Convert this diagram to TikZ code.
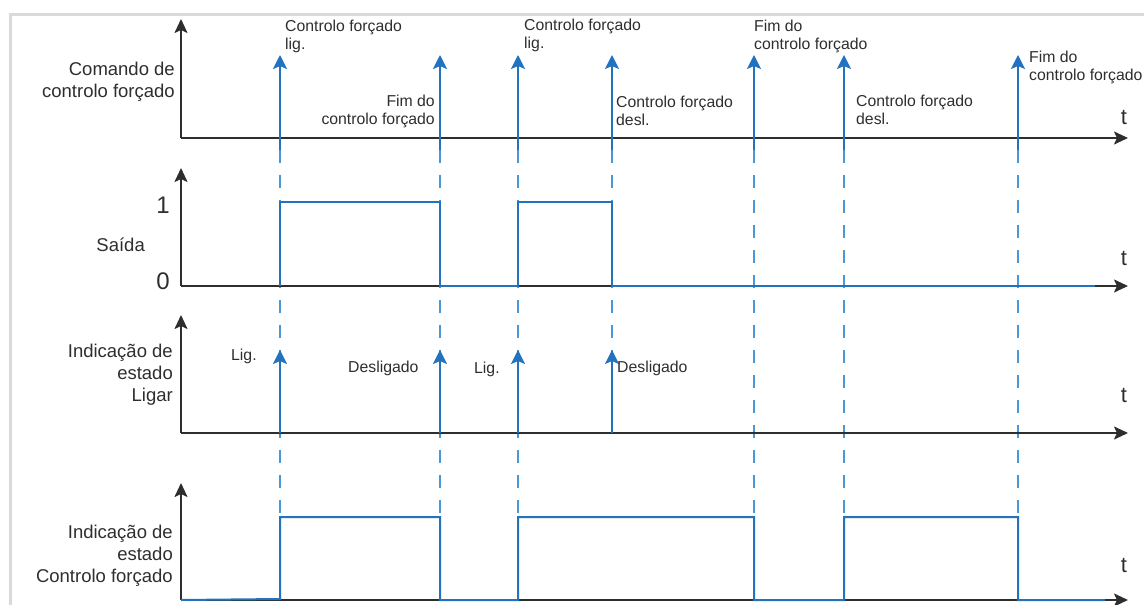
\documentclass[tikz,border=0pt]{standalone}
\usepackage{fontspec}
\setmainfont{Liberation Sans}
\usetikzlibrary{arrows.meta}
\definecolor{sigblue}{HTML}{2272BE}
\definecolor{dashblue}{HTML}{4A98D8}
\definecolor{axisgray}{HTML}{2E2E2E}
\definecolor{framegray}{HTML}{D9D9D9}
\tikzset{
  axisline/.style={draw=axisgray, line width=2pt, -{Stealth[length=14pt,width=13pt,inset=3pt]}},
  sigline/.style={draw=sigblue, line width=2pt},
  eventarrow/.style={draw=sigblue, line width=2pt, -{Stealth[length=14pt,width=14pt,inset=3pt]}},
  guide/.style={draw=dashblue, line width=1.8pt, dash pattern=on 13pt off 12pt},
  bigtxt/.style={inner sep=0pt, align=right, text=axisgray, font=\fontsize{18.5}{22}\selectfont},
  smalltxt/.style={inner sep=0pt, align=left, text=axisgray, font=\fontsize{15.8}{18.3}\selectfont},
  tlabel/.style={inner sep=0pt, text=axisgray, font=\fontsize{22}{24}\selectfont},
  numlabel/.style={inner sep=0pt, text=axisgray, font=\fontsize{24}{26}\selectfont}
}
\begin{document}
\begin{tikzpicture}[x=1pt,y=-1pt]
\useasboundingbox (0,0) rectangle (1144,605);
% frame
\draw[framegray, line width=3pt] (10,606) -- (10,14) -- (1145,14);

% guide lines (dashed)
\foreach \x in {280,440,518,754,844,1018} {
  \coordinate (gt\x) at (\x,150);
  \coordinate (gb\x) at (\x,517);
  \draw[guide] (gt\x) -- (gb\x);
}
\coordinate (gt612) at (612,150);
\coordinate (gb612) at (612,352);
\draw[guide] (gt612) -- (gb612);

% axes
\foreach \i/\base/\top in {1/138/19, 2/286/168, 3/433/315, 4/600/483} {
  \coordinate (o\i) at (181,\base);
  \coordinate (ytip\i) at (181,\top);
  \coordinate (xtip\i) at (1128,\base);
  \draw[axisline] (o\i) -- (ytip\i);
  \draw[axisline] (o\i) -- (xtip\i);
}

% output signal (panel 2)
\draw[sigline] (280,286) -- (280,202) -- (440,202) -- (440,286) -- (518,286)
  -- (518,202) -- (612,202) -- (612,286) -- (1095,286);
% forced control status (panel 4)
\draw[sigline] (181,600) -- (280,599) -- (280,517) -- (440,517) -- (440,600) -- (518,600)
  -- (518,517) -- (754,517) -- (754,600) -- (844,600) -- (844,517) -- (1018,517)
  -- (1018,600) -- (1105,600);

% command arrows (panel 1)
\foreach \x in {280,440,518,612,754,844,1018} {
  \coordinate (ca\x) at (\x,150);
  \coordinate (cb\x) at (\x,55);
  \draw[eventarrow] (ca\x) -- (cb\x);
}
% status arrows (panel 3)
\foreach \x in {280,440,518,612} {
  \coordinate (sa\x) at (\x,433);
  \coordinate (sb\x) at (\x,350);
  \draw[eventarrow] (sa\x) -- (sb\x);
}

% left labels
\node[bigtxt, anchor=north east] (lab1) at (175,62) {Comando de\\controlo forçado};
\node[numlabel] (one) at (163,205) {1};
\node[bigtxt, anchor=east] (sai) at (145,245) {Saída};
\node[numlabel] (zero) at (163,281) {0};
\node[bigtxt, anchor=north east] (lab3) at (173,344) {Indicação de\\estado\\Ligar};
\node[bigtxt, anchor=north east] (lab4) at (173,525) {Indicação de\\estado\\Controlo forçado};

% t labels
\node[tlabel] (t1) at (1124,117) {t};
\node[tlabel] (t2) at (1124,258) {t};
\node[tlabel] (t3) at (1124,395) {t};
\node[tlabel] (t4) at (1124,565) {t};

% top labels
\node[smalltxt, anchor=north west] (c1) at (285,20) {Controlo forçado\\lig.};
\node[smalltxt, anchor=north east, align=right] (c2) at (435,95) {Fim do\\controlo forçado};
\node[smalltxt, anchor=north west] (c3) at (524,19) {Controlo forçado\\lig.};
\node[smalltxt, anchor=north west] (c4) at (616,96) {Controlo forçado\\desl.};
\node[smalltxt, anchor=north west] (c5) at (754,20) {Fim do\\controlo forçado};
\node[smalltxt, anchor=north west] (c6) at (856,95) {Controlo forçado\\desl.};
\node[smalltxt, anchor=north west] (c7) at (1029,51) {Fim do\\controlo forçado};

% status labels
\node[smalltxt, anchor=north west] (s1) at (231,349) {Lig.};
\node[smalltxt, anchor=north west] (s2) at (348,361) {Desligado};
\node[smalltxt, anchor=north west] (s3) at (474,362) {Lig.};
\node[smalltxt, anchor=north west] (s4) at (617,361) {Desligado};
\end{tikzpicture}
\end{document}
